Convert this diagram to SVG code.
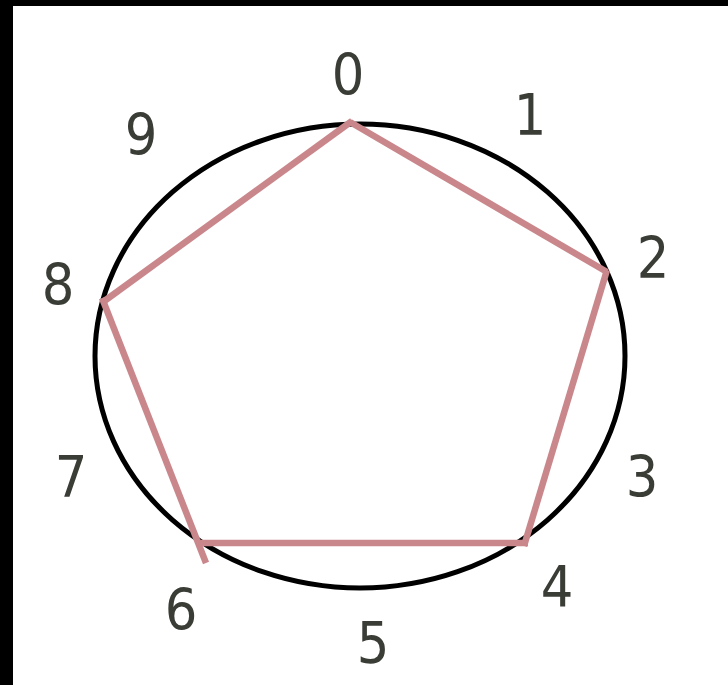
<svg xmlns="http://www.w3.org/2000/svg" width="728" height="685" viewBox="0 0 728 685">
  <style>
    .lbl { font-family: "DejaVu Sans Condensed", "DejaVu Sans", "Liberation Sans", sans-serif; font-stretch: condensed; font-size: 57px; fill: #3a3d36; text-anchor: middle; }
    .edge { stroke: #c9878c; stroke-width: 6.5; stroke-linecap: butt; fill: none; }
  </style>
  <rect x="0" y="0" width="728" height="685" fill="#000"/>
  <rect x="13" y="6" width="715" height="679" fill="#fff"/>
  <g id="circle">
    <ellipse cx="360" cy="356" rx="265" ry="232" fill="none" stroke="#000" stroke-width="5"/>
  </g>
  <g id="connectors">
    <line class="edge" x1="350" y1="122" x2="607" y2="272"/>
    <line class="edge" x1="607" y1="270" x2="524" y2="546"/>
    <line class="edge" x1="528" y1="543" x2="198" y2="543"/>
    <line class="edge" x1="206" y1="563" x2="102" y2="298"/>
    <line class="edge" x1="103" y1="302" x2="352" y2="121"/>
  </g>
  <g id="n0"><text class="lbl" x="348" y="95">0</text></g>
  <g id="n1"><text class="lbl" x="530" y="135">1</text></g>
  <g id="n2"><text class="lbl" x="653" y="278">2</text></g>
  <g id="n3"><text class="lbl" x="642" y="497">3</text></g>
  <g id="n4"><text class="lbl" x="557" y="607">4</text></g>
  <g id="n5"><text class="lbl" x="373" y="663">5</text></g>
  <g id="n6"><text class="lbl" x="181" y="630">6</text></g>
  <g id="n7"><text class="lbl" x="71" y="497">7</text></g>
  <g id="n8"><text class="lbl" x="58" y="305">8</text></g>
  <g id="n9"><text class="lbl" x="141" y="155">9</text></g>
</svg>
